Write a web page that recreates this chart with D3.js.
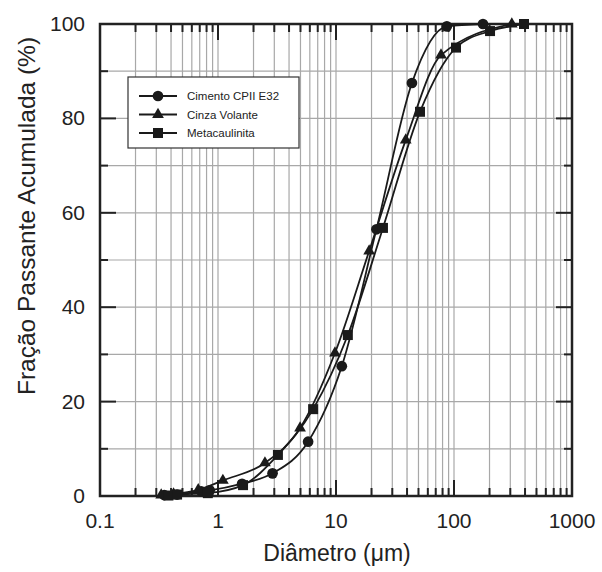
<!DOCTYPE html>
<html>
<head>
<meta charset="utf-8">
<script src="https://cdn.jsdelivr.net/npm/d3@7"></script>
<style>
  body { margin: 0; background: #fff; }
  text { font-family: "Liberation Sans", Arial, sans-serif; fill: #222; }
</style>
</head>
<body>
<svg width="602" height="572"></svg>
<script>
// diameters (um) and cumulative passing (%)
var cimentoX = [0.35, 0.45, 0.72, 0.85, 1.6, 2.9, 5.8, 11.2, 22, 44, 87, 176];
var cimentoY = [0.2, 0.3, 1.0, 1.2, 2.6, 4.8, 11.5, 27.5, 56.5, 87.5, 99.5, 100];
var cinzaX = [0.33, 0.42, 0.68, 1.1, 2.5, 4.96, 9.8, 19.1, 39, 77.6, 309];
var cinzaY = [0.2, 0.4, 1.3, 3.3, 7.0, 14.4, 30.3, 51.9, 75.4, 93.4, 100];
var metaX = [0.38, 0.45, 0.82, 1.63, 3.22, 6.4, 12.6, 25, 51.5, 104, 202, 392];
var metaY = [0.1, 0.3, 0.6, 2.3, 8.7, 18.4, 34.1, 56.8, 81.4, 95, 98.5, 100];

var seriesNames = ["Cimento CPII E32", "Cinza Volante", "Metacaulinita"];
var symbols = [d3.symbolCircle, d3.symbolTriangle, d3.symbolSquare];
var xTickLabels = [0.1, 1, 10, 100, 1000];
var yTickLabels = [0, 20, 40, 60, 80, 100];

function main() {
    var svg = d3.select("svg"),
        left = 100, top = 24,
        width = 472, height = 472;

    var xScale = d3.scaleLog().domain([0.1, 1000]).range([0, width]),
        yScale = d3.scaleLinear().domain([0, 100]).range([height, 0]);

    var g = svg.append("g").attr("transform", "translate(" + left + "," + top + ")");

    // all log positions 1..9 per decade
    var logTicks = [];
    [0.1, 1, 10, 100].forEach(function(d) {
        for (var k = 1; k < 10; k++) logTicks.push(d * k);
    });
    logTicks.push(1000);
    var minorX = logTicks.filter(function(v) { return xTickLabels.indexOf(+v.toPrecision(6)) < 0; });
    var yMinor = d3.range(10, 100, 20);

    // grid
    g.append("g").selectAll("line")
        .data(logTicks.slice(1, -1))
        .enter().append("line")
        .attr("x1", function(d) { return xScale(d); })
        .attr("x2", function(d) { return xScale(d); })
        .attr("y1", 0).attr("y2", height)
        .attr("stroke", "#a8a8a8").attr("stroke-width", 1.2);

    g.append("g").selectAll("line")
        .data(d3.range(10, 100, 10))
        .enter().append("line")
        .attr("x1", 0).attr("x2", width)
        .attr("y1", function(d) { return yScale(d); })
        .attr("y2", function(d) { return yScale(d); })
        .attr("stroke", "#a8a8a8").attr("stroke-width", 1.2);

    // inward ticks
    var tk = g.append("g").attr("stroke", "#222").attr("stroke-width", 2);
    function xTick(v, len) {
        var x = xScale(v);
        tk.append("line").attr("x1", x).attr("x2", x).attr("y1", height).attr("y2", height - len);
        tk.append("line").attr("x1", x).attr("x2", x).attr("y1", 0).attr("y2", len);
    }
    function yTick(v, len) {
        var y = yScale(v);
        tk.append("line").attr("x1", 0).attr("x2", len).attr("y1", y).attr("y2", y);
        tk.append("line").attr("x1", width).attr("x2", width - len).attr("y1", y).attr("y2", y);
    }
    minorX.forEach(function(v) { xTick(v, 8); });
    xTickLabels.forEach(function(v) { xTick(v, 16); });
    yMinor.forEach(function(v) { yTick(v, 8); });
    yTickLabels.forEach(function(v) { yTick(v, 16); });

    // frame
    g.append("rect").attr("width", width).attr("height", height)
        .attr("fill", "none").attr("stroke", "#222").attr("stroke-width", 2.5);

    // tick labels
    g.append("g").selectAll("text")
        .data(xTickLabels)
        .enter().append("text")
        .attr("x", function(d) { return xScale(d); })
        .attr("y", height + 32)
        .attr("text-anchor", "middle")
        .attr("font-size", "21px")
        .text(function(d) { return d; });

    g.append("g").selectAll("text")
        .data(yTickLabels)
        .enter().append("text")
        .attr("x", -15)
        .attr("y", function(d) { return yScale(d) + 7; })
        .attr("text-anchor", "end")
        .attr("font-size", "21px")
        .text(function(d) { return d; });

    // axis titles
    svg.append("text")
        .attr("x", left + width / 2 + 1)
        .attr("y", 561)
        .attr("text-anchor", "middle")
        .attr("font-size", "23px")
        .text("Diâmetro (μm)");

    svg.append("text")
        .attr("transform", "translate(35," + 216 + ") rotate(-90)")
        .attr("text-anchor", "middle")
        .attr("font-size", "24.5px")
        .text("Fração Passante Acumulada (%)");

    // series
    var series = [
        { xs: cimentoX, ys: cimentoY, size: 90 },
        { xs: cinzaX, ys: cinzaY, size: 60 },
        { xs: metaX, ys: metaY, size: 100 }
    ];
    var line = d3.line()
        .x(function(d) { return xScale(d[0]); })
        .y(function(d) { return yScale(d[1]); })
        .curve(d3.curveMonotoneX);

    series.forEach(function(s, i) {
        var pts = d3.zip(s.xs, s.ys);
        g.append("path").datum(pts)
            .attr("d", line)
            .attr("fill", "none").attr("stroke", "#1a1a1a").attr("stroke-width", 1.8);
        g.append("g").selectAll("path")
            .data(pts)
            .enter().append("path")
            .attr("transform", function(d) { return "translate(" + xScale(d[0]) + "," + yScale(d[1]) + ")"; })
            .attr("d", d3.symbol().type(symbols[i]).size(s.size))
            .attr("fill", "#1a1a1a");
    });

    // legend
    var lg = svg.append("g").attr("transform", "translate(128,77)");
    lg.append("rect").attr("width", 171).attr("height", 71)
        .attr("fill", "#fff").attr("stroke", "#333").attr("stroke-width", 1.2);
    seriesNames.forEach(function(name, i) {
        var y = 19 + i * 18.5;
        lg.append("line").attr("x1", 11).attr("x2", 49).attr("y1", y).attr("y2", y)
            .attr("stroke", "#1a1a1a").attr("stroke-width", 1.8);
        lg.append("path")
            .attr("transform", "translate(30," + y + ")")
            .attr("d", d3.symbol().type(symbols[i]).size(series[i].size))
            .attr("fill", "#1a1a1a");
        lg.append("text").attr("x", 59).attr("y", y + 4)
            .attr("font-size", "11.5px")
            .text(name);
    });
}
main();
</script>
</body>
</html>
